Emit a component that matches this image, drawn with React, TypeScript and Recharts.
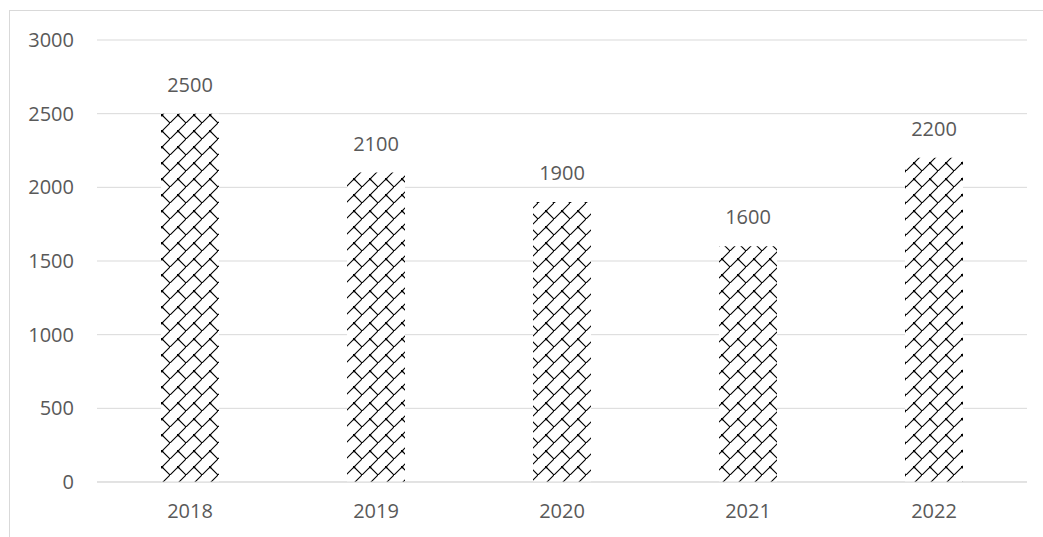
import { BarChart, Bar, XAxis, YAxis, CartesianGrid, LabelList } from 'recharts';

const years = ['2018', '2019', '2020', '2021', '2022'];
const amounts = [2500, 2100, 1900, 1600, 2200];
const yTicks = [0, 500, 1000, 1500, 2000, 2500, 3000];

const data = years.map((year, i) => ({ year, amount: amounts[i] }));

const textStyle = { fill: '#595959', fontSize: 20, fontFamily: '"Open Sans", sans-serif' };

export default function App() {
  return (
    <div
      style={{
        position: 'fixed',
        left: 9,
        top: 10,
        width: 1033,
        height: 527,
        borderTop: '1px solid #d9d9d9',
        borderLeft: '1px solid #d9d9d9',
        background: '#fff',
      }}
    >
      <BarChart width={1033} height={527} data={data} margin={{ top: 29, right: 16, bottom: 0, left: 0 }}>
        <defs>
          {/* diagonal brick hatch */}
          <pattern id="brick" patternUnits="userSpaceOnUse" width={16} height={16}>
            <rect width={16} height={16} fill="#fff" />
            <path d="M0,16 L16,0 M8,8 L16,16" stroke="#000" strokeWidth={1.1} fill="none" />
            <rect x={7} y={7} width={2.2} height={2.2} fill="#000" />
          </pattern>
        </defs>
        <CartesianGrid vertical={false} stroke="#d9d9d9" />
        <XAxis
          dataKey="year"
          height={56}
          tickLine={false}
          axisLine={{ stroke: '#d9d9d9' }}
          tickSize={0}
          tickMargin={22}
          tick={textStyle}
        />
        <YAxis
          width={87}
          domain={[0, 3000]}
          ticks={yTicks}
          axisLine={false}
          tickLine={false}
          tickSize={0}
          tickMargin={23}
          tick={textStyle}
        />
        <Bar dataKey="amount" barSize={58} fill="url(#brick)" isAnimationActive={false}>
          <LabelList dataKey="amount" position="top" offset={22} style={textStyle} />
        </Bar>
      </BarChart>
    </div>
  );
}
